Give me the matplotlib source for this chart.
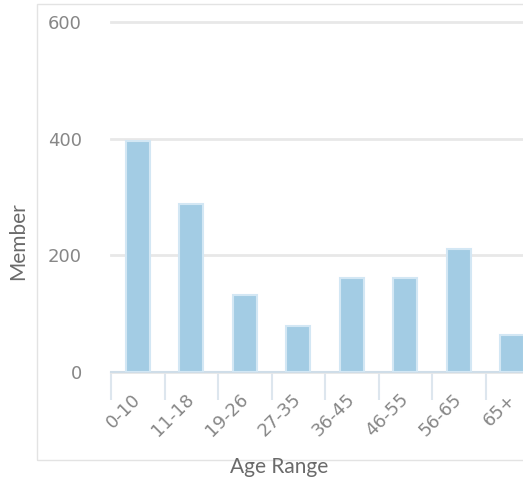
import matplotlib
matplotlib.use("Agg")
import matplotlib.pyplot as plt
from matplotlib.patches import Rectangle
from matplotlib.transforms import ScaledTranslation

age_ranges = ["0-10", "11-18", "19-26", "27-35", "36-45", "46-55", "56-65", "65+"]
members = [395, 288, 132, 79, 162, 162, 211, 63]
y_ticks = [0, 200, 400, 600]

W, H = 523, 482
fig = plt.figure(figsize=(W / 100, H / 100), dpi=100)
fig.patch.set_facecolor("white")

# outer panel border
fig.patches.append(Rectangle((37 / W, 1 - 460 / H), 1.0, (460 - 4) / H,
                             transform=fig.transFigure, fill=False,
                             edgecolor="#e3e3e3", linewidth=1.0))

left, right, y0, y600 = 111, 539, 372.3, 21.7
ax = fig.add_axes([left / W, 1 - y0 / H, (right - left) / W, (y0 - y600) / H])

x = list(range(len(age_ranges)))
ax.bar(x, members, width=0.44, color="#a3cce4", edgecolor="#d3e7f4",
       linewidth=1.5, zorder=3)

ax.set_xlim(-0.5, len(age_ranges) - 0.5)
ax.set_ylim(0, 600)

for s in ["top", "right", "left"]:
    ax.spines[s].set_visible(False)
ax.spines["bottom"].set_color("#cfdde8")
ax.spines["bottom"].set_linewidth(1.5)

tick_font = dict(family="DejaVu Sans", size=13, color="#878787")

ax.set_yticks(y_ticks)
ax.set_yticklabels([str(v) for v in y_ticks], **tick_font)
ax.tick_params(axis="y", length=0, pad=21)
ax.yaxis.grid(True, color="#e8e8e8", linewidth=2, zorder=0)
for gl in ax.yaxis.get_gridlines():
    gl.set_clip_on(False)

# category boundary ticks
ax.set_xticks([i - 0.5 for i in x], minor=True)
ax.tick_params(axis="x", which="minor", length=20, width=1.5, color="#dde6ee")
ax.set_xticks(x)
ax.set_xticklabels(age_ranges, rotation=45, ha="right", rotation_mode="anchor",
                   **tick_font)
ax.tick_params(axis="x", which="major", length=0, pad=13)
shift = ScaledTranslation(-6 / 100, 0, fig.dpi_scale_trans)
for lbl in ax.get_xticklabels():
    lbl.set_transform(lbl.get_transform() + shift)

label_font = dict(fontsize=15, color="#6a6a6a", family="Lato")
fig.text(18 / W, 1 - 241 / H, "Member", rotation=90, ha="center", va="center",
         **label_font)
fig.text(279 / W, 1 - 467 / H, "Age Range", ha="center", va="center",
         **label_font)

fig.savefig("out.png", dpi=100)
